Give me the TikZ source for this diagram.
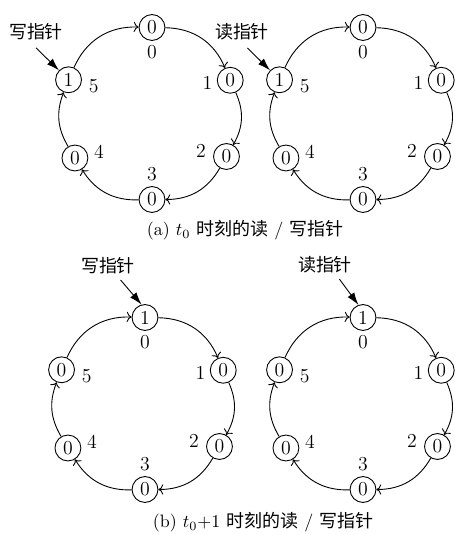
\documentclass[tikz,border=0pt]{standalone}
\usepackage{fontspec}
\newfontfamily\cjk{Noto Sans CJK SC}
\usetikzlibrary{arrows.meta}

\begin{document}
\begin{tikzpicture}[
  x=0.556pt, y=0.556pt,
  cell/.style={draw, circle, minimum size=14.4pt, inner sep=0pt, line width=0.5pt,
    font=\fontsize{11}{13}\selectfont},
  idx/.style={inner sep=0pt, font=\fontsize{11}{13}\selectfont},
  tag/.style={font=\cjk, inner sep=1pt},
  link/.style={->, line width=0.5pt},
  ptr/.style={-{Latex[length=7pt,width=4.5pt]}, line width=0.5pt},
]
\useasboundingbox (0,0) rectangle (455,535);

% four rings: name / centre / slot holding the 1
\foreach \rg/\cx/\cy/\one in {a/152/421.5/5, b/363/421.5/5, c/145/131.5/0, d/363/131.5/0} {
  \foreach \i/\ang/\rad/\lang/\ldist in {0/90/86/-90/25, 1/23/85/186/23, 2/-30/86/168/26,
      3/-90/86/90/25, 4/-150/89/15/25, 5/158/90/-14/26} {
    \node[cell] (\rg\i) at ([shift={(\ang:\rad)}]\cx,\cy) {\ifnum\i=\one\relax 1\else 0\fi};
    \node[idx] (\rg l\i) at ([shift={(\lang:\ldist)}]\rg\i) {\i};
  }
  \foreach \i/\j/\bend in {0/1/33, 1/2/27, 2/3/30, 3/4/30, 4/5/26, 5/0/34}
    \draw[link] (\rg\i) to[bend left=\bend] (\rg\j);
}

% pointers
\node[tag] (wa) at (36,503) {写指针};
\node[tag] (rb) at (242,503) {读指针};
\node[tag] (wc) at (108,269) {写指针};
\node[tag] (rd) at (325,270) {读指针};
\draw[ptr] ([yshift=-3pt]wa.south) -- (a5);
\draw[ptr] ([xshift=3pt,yshift=-3pt]rb.south) -- (b5);
\draw[ptr] ([xshift=7pt,yshift=-2pt]wc.south) -- (c0.105);
\draw[ptr] ([xshift=8pt,yshift=-2pt]rd.south) -- (d0.110);

\node (capa) at (245,305) {(a) $t_0$ {\cjk 时刻的读} / {\cjk 写指针}};
\node (capb) at (263,13) {(b) $t_0$+1 {\cjk 时刻的读} / {\cjk 写指针}};
\end{tikzpicture}
\end{document}
